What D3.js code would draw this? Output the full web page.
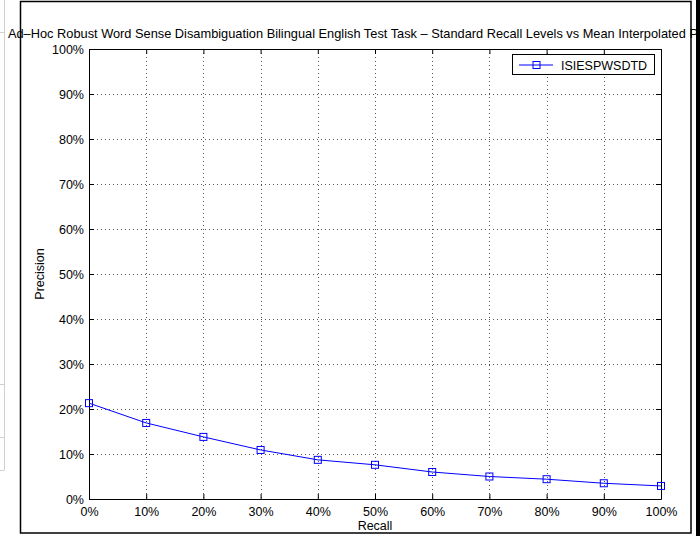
<!DOCTYPE html>
<html><head><meta charset="utf-8">
<script src="https://cdn.jsdelivr.net/npm/d3@7"></script>
<style>body{margin:0;background:#fff}svg{display:block;font-family:"Liberation Sans",Arial,sans-serif}</style>
</head><body>
<svg id="c" width="700" height="536"></svg>
<script>
const recall = [0, 10, 20, 30, 40, 50, 60, 70, 80, 90, 100];
const precision = [21.3, 16.9, 13.8, 10.9, 8.7, 7.6, 6.0, 5.0, 4.4, 3.5, 2.9];
const xTicks = [0, 10, 20, 30, 40, 50, 60, 70, 80, 90, 100];
const yTicks = [0, 10, 20, 30, 40, 50, 60, 70, 80, 90, 100];
const seriesName = "ISIESPWSDTD";
const chartTitle = "Ad\u2013Hoc Robust Word Sense Disambiguation Bilingual English Test Task \u2013 Standard Recall Levels vs Mean Interpolated Precision";

(function () {
const svg = d3.select("#c");
const L = 89, R = 661, T = 49, B = 499;
const fs = 12.5;
const x = d3.scaleLinear().domain([0, 100]).range([L, R]);
const y = d3.scaleLinear().domain([0, 100]).range([B, T]);

// background artifacts at left
const art = svg.append("g").attr("stroke", "#d0d0d0").attr("stroke-width", 1).attr("fill", "none");
art.append("line").attr("x1", 4.5).attr("x2", 4.5).attr("y1", 0).attr("y2", 470);
[32.5, 384.5, 437.5, 470.5].forEach(v => art.append("line").attr("x1", 0).attr("x2", 4.5).attr("y1", v).attr("y2", v));

// title
svg.append("text").attr("x", (L + R) / 2).attr("y", 38).attr("text-anchor", "middle")
  .attr("font-size", 12.8).attr("fill", "#000").text(chartTitle);

// grid
const g = svg.append("g").attr("stroke", "#555").attr("stroke-width", 1).attr("stroke-dasharray", "1,3");
xTicks.slice(1, -1).forEach(t => g.append("line").attr("x1", Math.round(x(t)) + 0.5).attr("x2", Math.round(x(t)) + 0.5).attr("y1", T).attr("y2", B));
yTicks.slice(1, -1).forEach(t => g.append("line").attr("y1", Math.round(y(t)) + 0.5).attr("y2", Math.round(y(t)) + 0.5).attr("x1", L).attr("x2", R));

// axes with inward ticks
const tk = 5;
const axB = svg.append("g").attr("transform", `translate(0,${B})`)
  .call(d3.axisBottom(x).tickValues(xTicks).tickSizeInner(-tk).tickSizeOuter(0).tickPadding(8).tickFormat(d => d + "%"));
const axT = svg.append("g").attr("transform", `translate(0,${T})`)
  .call(d3.axisTop(x).tickValues(xTicks).tickSizeInner(-tk).tickSizeOuter(0).tickFormat(""));
const axL = svg.append("g").attr("transform", `translate(${L},0)`)
  .call(d3.axisLeft(y).tickValues(yTicks).tickSizeInner(-tk).tickSizeOuter(0).tickPadding(5).tickFormat(d => d + "%"));
const axR = svg.append("g").attr("transform", `translate(${R},0)`)
  .call(d3.axisRight(y).tickValues(yTicks).tickSizeInner(-tk).tickSizeOuter(0).tickFormat(""));
[axB, axT, axL, axR].forEach(a => {
  a.selectAll("path").attr("stroke", "#000").attr("stroke-width", 1);
  a.selectAll("line").attr("stroke", "#000");
  a.selectAll("text").attr("font-size", fs).attr("fill", "#000").attr("font-family", '"Liberation Sans",Arial,sans-serif');
});
axB.selectAll("text").attr("dy", "0.71em");
axL.selectAll("text").attr("dy", "0.36em");

// axis labels
svg.append("text").attr("x", (L + R) / 2).attr("y", 529.5).attr("text-anchor", "middle").attr("font-size", fs).text("Recall");
svg.append("text").attr("transform", `translate(44,${(T + B) / 2}) rotate(-90)`).attr("text-anchor", "middle").attr("font-size", fs).text("Precision");

// series
const line = d3.line().x((d, i) => x(recall[i])).y(d => y(d));
svg.append("path").datum(precision).attr("d", line).attr("fill", "none").attr("stroke", "#0000ff").attr("stroke-width", 1);
const ms = 7;
svg.append("g").selectAll("rect").data(precision).join("rect")
  .attr("x", (d, i) => x(recall[i]) - ms / 2).attr("y", d => y(d) - ms / 2)
  .attr("width", ms).attr("height", ms).attr("fill", "none").attr("stroke", "#0000ff").attr("stroke-width", 1);

// legend
const lg = svg.append("g");
lg.append("rect").attr("x", 512.5).attr("y", 54.5).attr("width", 142).attr("height", 20).attr("fill", "#fff").attr("stroke", "#000");
lg.append("line").attr("x1", 519).attr("x2", 553).attr("y1", 65).attr("y2", 65).attr("stroke", "#0000ff");
lg.append("rect").attr("x", 536 - ms / 2 + 0.5).attr("y", 65 - ms / 2).attr("width", ms).attr("height", ms).attr("fill", "none").attr("stroke", "#0000ff");
lg.append("text").attr("x", 561).attr("y", 65).attr("dy", "0.36em").attr("font-size", fs).text(seriesName);

// outer frame
svg.append("rect").attr("x", 20.5).attr("y", 1.5).attr("width", 670.5).attr("height", 531.5).attr("fill", "none").attr("stroke", "#000").attr("stroke-width", 1.5);
svg.append("rect").attr("x", 696).attr("y", 0).attr("width", 4).attr("height", 536).attr("fill", "#000");
})();
</script>
</body></html>
